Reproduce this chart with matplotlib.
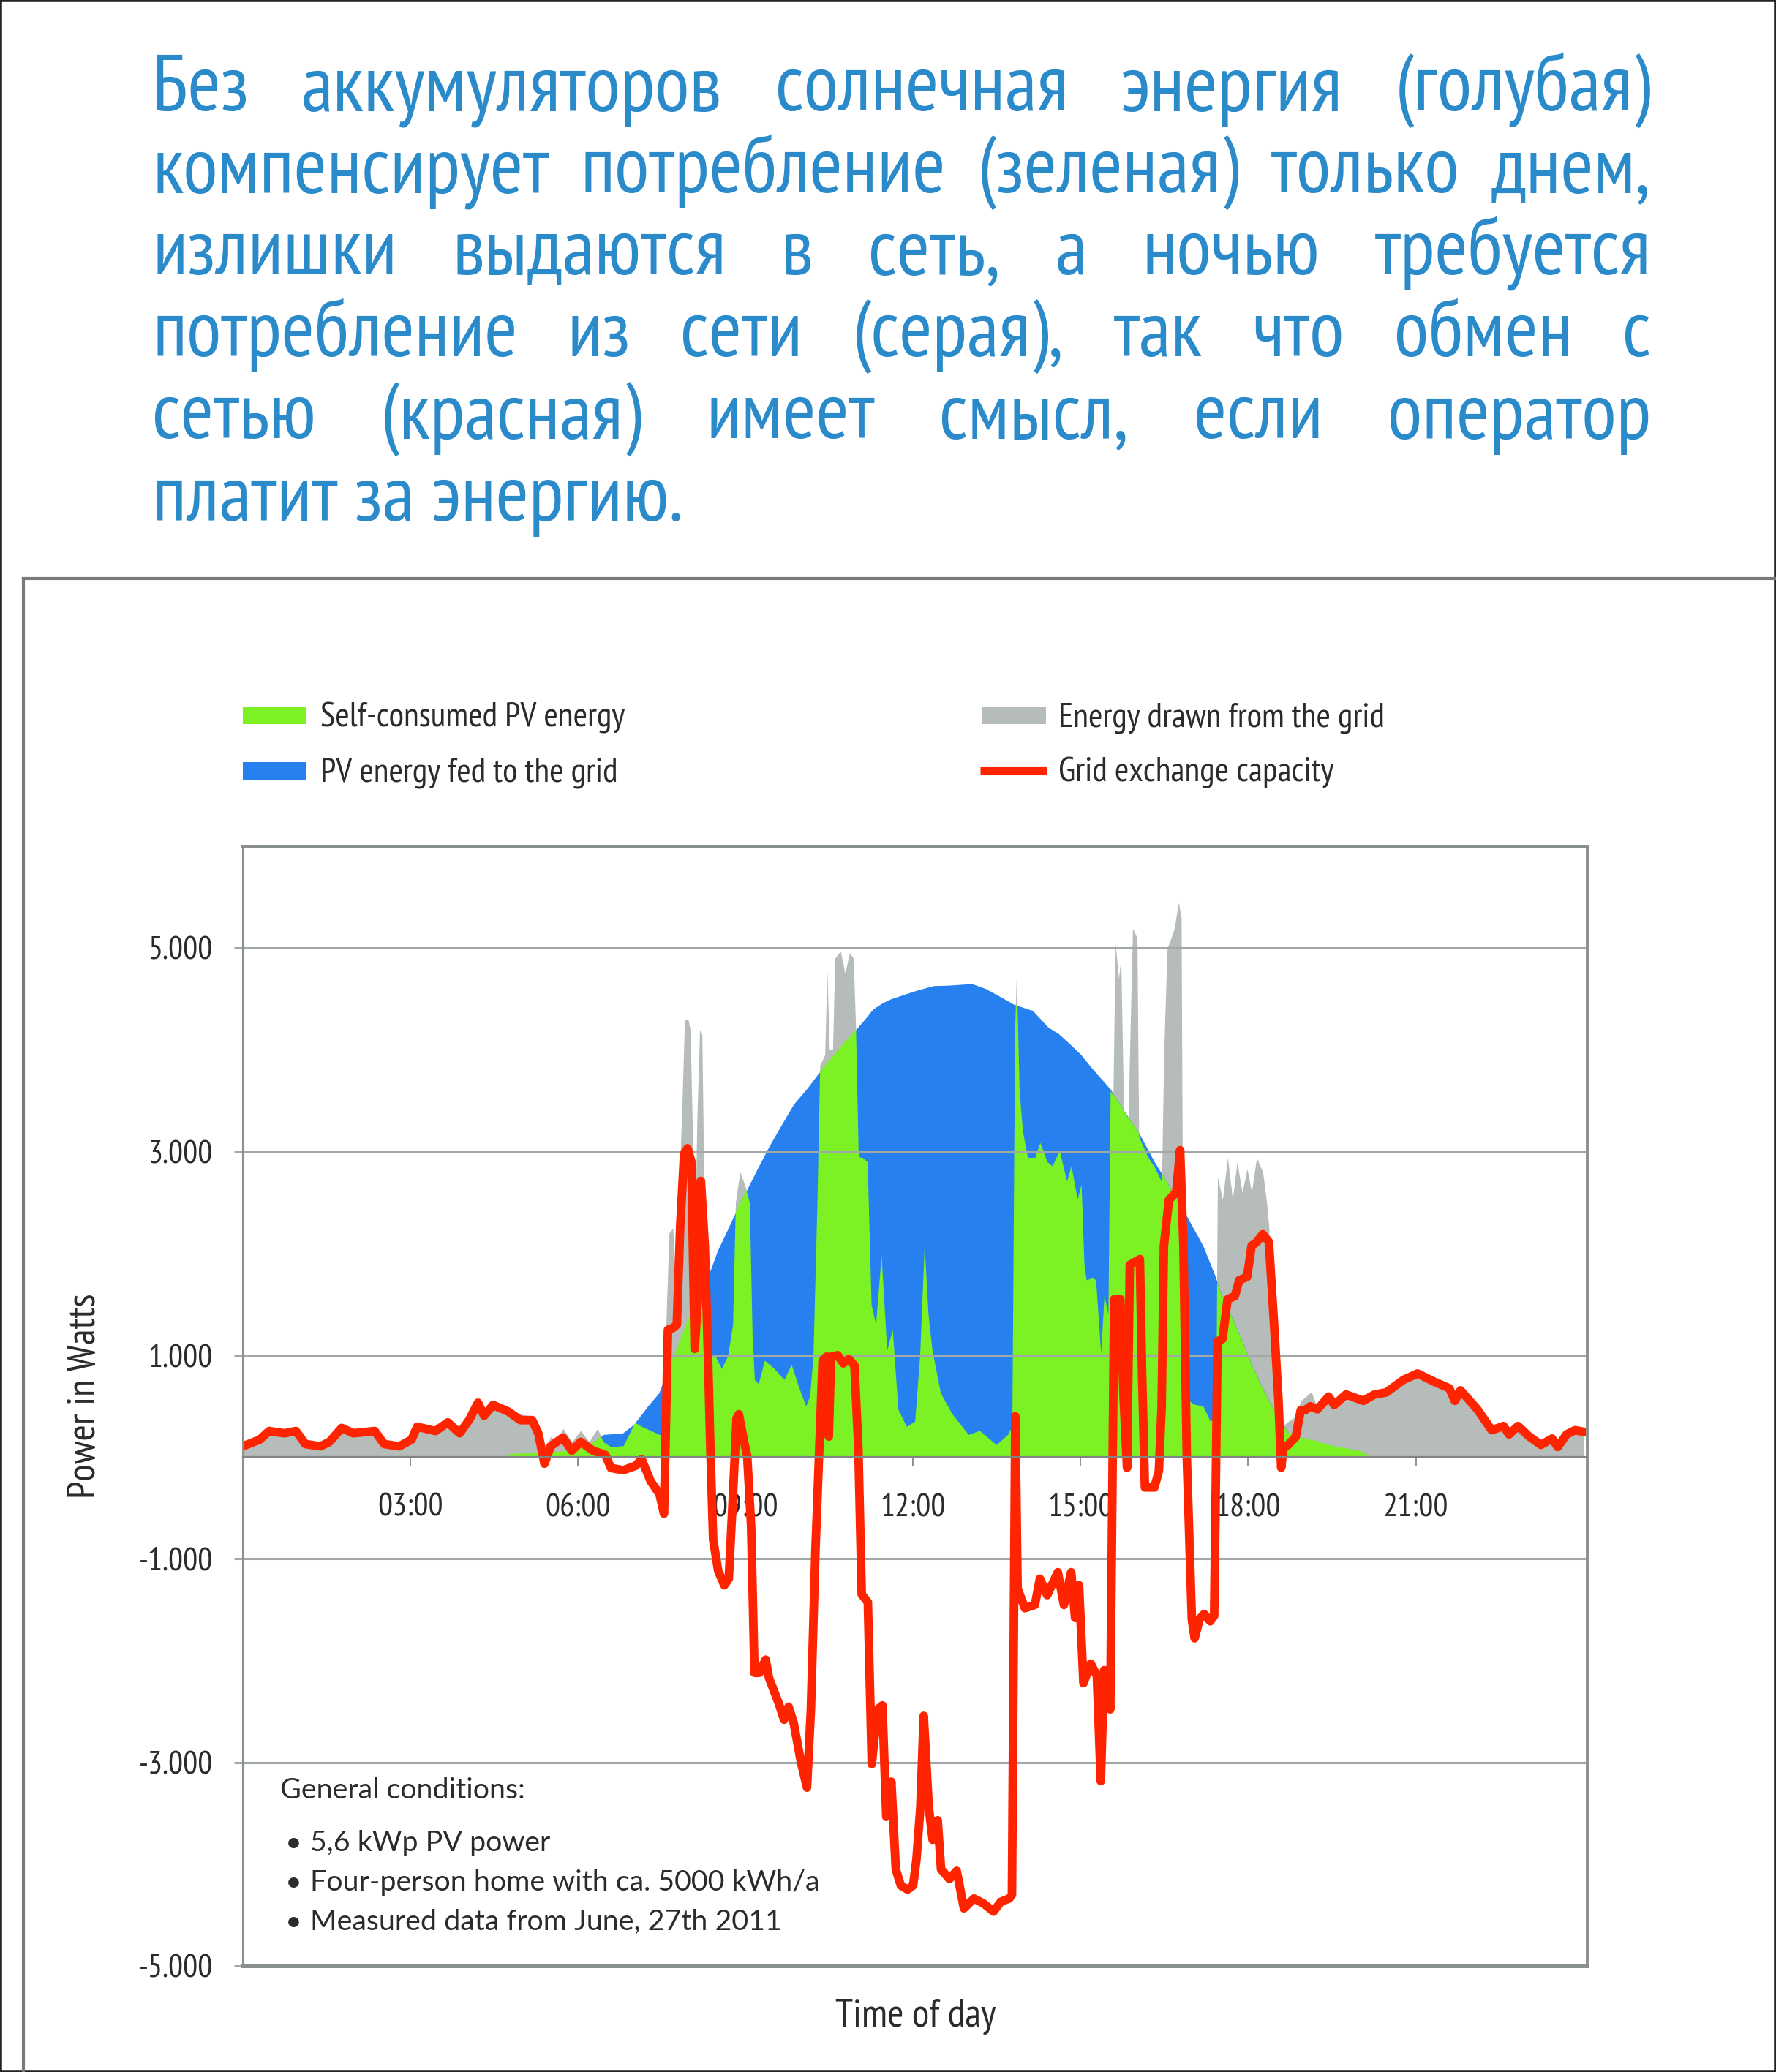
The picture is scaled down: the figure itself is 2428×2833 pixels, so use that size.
import os
import matplotlib
matplotlib.use('Agg')
import matplotlib.pyplot as plt
from matplotlib import font_manager
from matplotlib.font_manager import FontProperties
from matplotlib.ft2font import FT2Font
from matplotlib.patches import Rectangle
from matplotlib.lines import Line2D
from matplotlib.path import Path

# =======  DATA  ======= #
title_lines = [
    'Без аккумуляторов солнечная энергия (голубая)',
    'компенсирует потребление (зеленая) только днем,',
    'излишки выдаются в сеть, а ночью требуется',
    'потребление из сети (серая), так что обмен с',
    'сетью (красная) имеет смысл, если оператор',
    'платит за энергию.',
]
legend_labels = ['Self-consumed PV energy', 'PV energy fed to the grid',
                 'Energy drawn from the grid', 'Grid exchange capacity']
conditions_title = 'General conditions:'
conditions = ['5,6 kWp PV power',
              'Four-person home with ca. 5000 kWh/a',
              'Measured data from June, 27th 2011']

y_ticks = [5000, 3000, 1000, -1000, -3000, -5000]
y_tick_labels = ['5.000', '3.000', '1.000', '-1.000', '-3.000', '-5.000']
x_ticks = [3, 6, 9, 12, 15, 18, 21]
x_tick_labels = ['03:00', '06:00', '09:00', '12:00', '15:00', '18:00', '21:00']

# PV generation (top of blue / green under grey)
pv_hours = [0.0, 4.7, 4.8, 5.5, 6.0, 6.3, 6.45, 6.8, 7.0, 7.25, 7.45, 7.6, 7.8,
            7.96, 8.1, 8.22, 8.38, 8.5, 8.64, 8.75, 8.86, 9.0, 9.21, 9.42,
            9.65, 9.86, 10.1, 10.3, 10.56, 10.8, 11.0, 11.15, 11.28, 11.45,
            11.6, 11.9, 12.1, 12.37, 12.6, 12.8, 13.05, 13.3, 13.6, 13.8,
            14.14, 14.42, 14.6, 14.8, 15.0, 15.23, 15.53, 15.79, 16.06, 16.32,
            16.49, 16.75, 16.89, 17.19, 17.41, 17.5, 17.84, 18.06, 18.28,
            18.5, 18.72, 18.94, 19.2, 19.5, 20.0, 20.2, 24.0]
pv_watts = [0, 0, 30, 45, 70, 150, 220, 235, 320, 500, 630, 850, 1100,
            1340, 1500, 1650, 1850, 2030, 2190, 2320, 2450, 2600, 2830, 3050,
            3270, 3465, 3620, 3765, 3935, 4090, 4215, 4310, 4400, 4460,
            4500, 4555, 4590, 4630, 4633, 4640, 4650, 4600, 4510, 4447,
            4385, 4220, 4160, 4060, 3955, 3800, 3615, 3390, 3165, 2900,
            2750, 2500, 2375, 2075, 1775, 1625, 1210, 910, 650,
            420, 235, 190, 160, 110, 60, 0, 0]

# household consumption (top of green / grey)
load_hours = [0.0, 0.3, 0.47, 0.74, 0.95, 1.12, 1.39, 1.55, 1.77, 1.98, 2.36,
              2.53, 2.8, 3.02, 3.12, 3.45, 3.67, 3.88, 4.05, 4.21, 4.32, 4.48,
              4.75, 4.97, 5.18, 5.29, 5.4, 5.51, 5.62, 5.73, 5.89, 6.05, 6.2,
              6.35, 6.45, 6.59, 6.81, 7.02, 7.14, 7.3, 7.46, 7.54, 7.57, 7.63,
              7.7, 7.75, 7.8, 7.86, 7.91, 7.97, 8.01, 8.05, 8.09, 8.13, 8.18,
              8.22, 8.26, 8.31, 8.36, 8.46, 8.57, 8.68, 8.77, 8.82, 8.9, 9.0,
              9.07, 9.12, 9.16, 9.23, 9.34, 9.51, 9.69, 9.82, 9.95, 10.08,
              10.15, 10.21, 10.28, 10.33, 10.42, 10.46, 10.5, 10.56, 10.6,
              10.7, 10.78, 10.86, 10.93, 10.97, 11.02, 11.1, 11.18, 11.25,
              11.33, 11.43, 11.53, 11.63, 11.73, 11.88, 12.03, 12.12, 12.2,
              12.27, 12.34, 12.49, 12.69, 12.99, 13.19, 13.49, 13.69, 13.77,
              13.82, 13.85, 13.9, 13.96, 14.05, 14.18, 14.27, 14.4, 14.49,
              14.62, 14.75, 14.83, 14.94, 15.01, 15.06, 15.1, 15.21, 15.27,
              15.36, 15.42, 15.49, 15.53, 15.58, 15.62, 15.68, 15.72, 15.77,
              15.85, 15.93, 16.01, 16.04, 16.2, 16.32, 16.45, 16.49, 16.55,
              16.62, 16.68, 16.75, 16.8, 16.84, 17.02, 17.19, 17.32, 17.42,
              17.45, 17.54, 17.63, 17.72, 17.8, 17.89, 17.98, 18.06, 18.15,
              18.26, 18.33, 18.37, 18.41, 18.48, 18.63, 18.72, 18.85, 18.94,
              19.13, 19.24, 19.44, 19.54, 19.75, 20.06, 20.26, 20.47, 20.78,
              21.03, 21.34, 21.6, 21.7, 21.8, 22.1, 22.36, 22.57, 22.67,
              22.83, 23.03, 23.24, 23.44, 23.54, 23.7, 23.85, 24.0]
load_watts = [110, 170, 255, 235, 255, 130, 105, 150, 285, 235, 255,
              130, 105, 170, 300, 255, 340, 235, 365, 530, 420, 520,
              460, 420, 400, 300, 40, 200, 150, 280, 150, 260, 150,
              280, 150, 100, 110, 340, 300, 260, 220, 200, 1200, 2200,
              2250, 1600, 2500, 3400, 4300, 4300, 4200, 3200, 2000, 3300, 4200,
              4150, 2500, 1300, 1000, 990, 870, 990, 1300, 2500, 2800, 2650,
              2500, 1200, 760, 720, 950, 870, 760, 910, 690, 500,
              600, 1000, 2500, 3850, 3950, 4780, 4000, 4000, 4900,
              4970, 4750, 4950, 4900, 4250, 2950, 2940, 2900, 1500,
              1300, 1980, 1050, 1250, 470, 300, 350, 1000, 2080,
              1400, 1050, 630, 430, 220, 260, 120, 220, 300,
              4200, 4750, 3600, 3200, 2940, 2940, 3090, 2900, 2860,
              3010, 2710, 2860, 2530, 2680, 1900, 1740, 1760, 1740,
              1020, 1590, 1400, 3600, 3550, 5040, 4700, 4900, 3400,
              3330, 5190, 5100, 3150, 2950, 2850, 2700, 4000, 5000,
              5100, 5200, 5450, 5300, 600, 520, 500, 350, 400,
              2750, 2530, 2940, 2530, 2900, 2600, 2830, 2600, 2940,
              2800, 2500, 2260, 1320, 570, 310, 350, 400, 550,
              640, 480, 600, 520, 620, 560, 600, 620, 760,
              820, 740, 680, 560, 660, 470, 270, 300, 220,
              300, 200, 120, 180, 100, 220, 260, 250]

# grid exchange (red line)
grid_hours = [0.0, 0.3, 0.47, 0.74, 0.95, 1.12, 1.39, 1.55, 1.77, 1.98, 2.36,
              2.53, 2.8, 3.02, 3.12, 3.45, 3.67, 3.88, 4.05, 4.21, 4.32, 4.48,
              4.75, 4.97, 5.18, 5.29, 5.4, 5.51, 5.73, 5.89, 6.05, 6.27, 6.49,
              6.59, 6.81, 7.03, 7.14, 7.3, 7.46, 7.54, 7.61, 7.7, 7.77, 7.83,
              7.9, 7.96, 8.03, 8.09, 8.14, 8.2, 8.27, 8.33, 8.37, 8.42, 8.51,
              8.62, 8.7, 8.77, 8.84, 8.88, 8.97, 9.03, 9.1, 9.16, 9.25, 9.36,
              9.42, 9.6, 9.69, 9.77, 9.86, 9.99, 10.1, 10.17, 10.25, 10.32,
              10.38, 10.45, 10.49, 10.53, 10.65, 10.75, 10.85, 10.95, 11.02,
              11.08, 11.19, 11.26, 11.36, 11.45, 11.52, 11.61, 11.69, 11.78,
              11.9, 12.0, 12.06, 12.13, 12.19, 12.28, 12.35, 12.44, 12.5,
              12.65, 12.78, 12.91, 13.09, 13.26, 13.44, 13.57, 13.72, 13.77,
              13.83, 13.87, 14.0, 14.18, 14.27, 14.4, 14.59, 14.7, 14.83,
              14.9, 14.97, 15.05, 15.18, 15.29, 15.36, 15.42, 15.53, 15.6,
              15.71, 15.77, 15.83, 15.88, 16.06, 16.1, 16.15, 16.32, 16.4,
              16.45, 16.49, 16.58, 16.71, 16.78, 16.84, 16.9, 16.99, 17.04,
              17.13, 17.21, 17.32, 17.39, 17.45, 17.54, 17.63, 17.76, 17.84,
              17.98, 18.06, 18.15, 18.26, 18.37, 18.46, 18.54, 18.59, 18.63,
              18.72, 18.85, 18.94, 19.02, 19.11, 19.24, 19.44, 19.54, 19.75,
              20.06, 20.26, 20.47, 20.78, 21.03, 21.34, 21.6, 21.7, 21.8,
              22.1, 22.36, 22.57, 22.67, 22.83, 23.03, 23.24, 23.44, 23.54,
              23.7, 23.85, 24.05]
grid_watts = [105, 170, 255, 233, 255, 127, 105, 148, 285, 233, 255,
              127, 105, 170, 297, 255, 340, 233, 362, 533, 404, 511,
              447, 362, 362, 233, -66, 105, 191, 62, 148, 62, 20,
              -108, -130, -87, -23, -237, -365, -557, 1249, 1267, 1300, 2263,
              2976, 3033, 2901, 1061, 1500, 2713, 2075, 948, 86, -812, -1119,
              -1260, -1196, -427, 380, 420, 160, 9, -683, -2120, -2120, -1991,
              -2171, -2428, -2581, -2453, -2607, -2992, -3248, -2479, -940, 86,
              948, 986, 200, 986, 1000, 920, 960, 900, 86,
              -1350, -1427, -3017, -2480, -2440, -3535, -3190, -4050, -4210,
              -4250, -4210, -3953, -3440, -2543, -3440, -3761, -3569, -4050,
              -4146, -4066, -4434, -4338, -4386, -4466, -4370, -4338, -4300,
              400, -1292, -1485, -1453, -1196, -1357, -1132, -1453, -1132,
              -1581, -1260, -2222, -2030, -2150, -3184, -2094, -2479, 1549,
              1549, 573, -106, 1887, 1944, 800, -299, -299, -138,
              500, 2075, 2526, 2600, 3014, 2075, 0, -1590, -1781,
              -1590, -1542, -1614, -1560, 1136, 1160, 1549, 1580, 1737,
              1770, 2075, 2110, 2188, 2113, 1324, 573, -105, 84,
              122, 197, 460, 460, 498, 469, 593, 511, 614,
              552, 614, 634, 758, 820, 737, 675, 552, 655,
              469, 263, 304, 222, 304, 201, 119, 181, 98,
              222, 263, 243]

# =======  STYLE  ======= #
W, H, DPI = 2428, 2833, 100
GREEN = '#7cf224'
BLUE = '#2680f0'
GRAY = '#b5bcba'
RED = '#ff2400'
GRID = '#a2a7a7'
FRAME = '#8a9090'
TXT = '#2b2b2b'
TITLE_BLUE = '#2a8aca'


def has_cyrillic(path):
    try:
        return FT2Font(path).get_char_index(ord('ж')) != 0
    except Exception:
        return False


def find_narrow_font():
    # prefer a narrow / condensed sans face, else Liberation Sans
    ranked = []
    for f in font_manager.fontManager.ttflist:
        if f.style != 'normal' or f.weight != 400:
            continue
        name = f.name.lower()
        base = os.path.basename(f.fname).lower()
        if 'mono' in name or ('serif' in name and 'sans' not in name):
            continue
        if 'narrow' in name or 'narrow' in base:
            rank = 0
        elif (f.stretch == 'condensed' or 'condensed' in name or
              ('condensed' in base and 'semi' not in base and 'extra' not in base)):
            rank = 1
        else:
            continue
        if has_cyrillic(f.fname):
            ranked.append((rank, f.fname))
    ranked.sort()
    if ranked:
        return ranked[0][1]
    return font_manager.findfont(FontProperties(family='Liberation Sans'))


SANS_PATH = find_narrow_font()


def sans(size):
    fp = FontProperties(fname=SANS_PATH)
    fp.set_size(size)
    return fp


ROUND = 'Lato'
try:
    font_manager.findfont(FontProperties(family='Lato'), fallback_to_default=False)
except Exception:
    ROUND = 'Open Sans'


def fx(x):
    return x / W


def fy(y):
    return 1 - y / H


fig = plt.figure(figsize=(W / DPI, H / DPI), dpi=DPI)
renderer = fig.canvas.get_renderer()


def text_px(s, size):
    w, h, d = renderer.get_text_width_height_descent(s, sans(size), ismath=False)
    return w


def fit(s, target, max_pt):
    return min(max_pt, 50 * target / text_px(s, 50))


TICK_FS = fit('03:00', 101, 32)
LEG_FS = fit(legend_labels[0], 477, 34)
YLAB_FS = fit('Power in Watts', 331, 39)
XLAB_FS = fit('Time of day', 267, 39)

ax = fig.add_axes([fx(332), fy(2688), (2170 - 332) / W, (2688 - 1157) / H])

# fills: grey = load, blue = pv, green = overlap of both
ax.fill_between(load_hours, 0, load_watts, color=GRAY, lw=0, zorder=1.0)
blue = ax.fill_between(pv_hours, 0, pv_watts, color=BLUE, lw=0, zorder=1.1)
green = ax.fill_between(load_hours, 0, load_watts, color=GREEN, lw=0, zorder=1.2)
clip = Path.make_compound_path(*blue.get_paths())
green.set_clip_path(clip, ax.transData)

ax.plot(grid_hours, grid_watts, color=RED, lw=8.5, solid_joinstyle='round',
        solid_capstyle='round', zorder=2)

ax.set_xlim(0, 24.07)
ax.set_ylim(-5000, 6000)
ax.set_yticks(y_ticks, y_tick_labels)
ax.set_xticks(x_ticks, x_tick_labels)
ax.spines['bottom'].set_position(('data', 0))
ax.spines['bottom'].set_color('#7f8585')
ax.spines['bottom'].set_linewidth(1.6)
ax.spines['top'].set_color(FRAME)
ax.spines['top'].set_linewidth(3.6)
ax.spines['left'].set_color(FRAME)
ax.spines['left'].set_linewidth(2.2)
ax.spines['right'].set_color(FRAME)
ax.spines['right'].set_linewidth(2.8)
ax.axhline(-5000, color=FRAME, lw=3.6, clip_on=False, zorder=3)
ax.grid(axis='y', color=GRID, lw=2.2)
ax.tick_params(axis='x', direction='out', length=8.6, width=1.4, color=FRAME,
               pad=27, labelcolor=TXT)
ax.tick_params(axis='y', direction='out', length=8.6, width=2.2, color=GRID,
               pad=21, labelcolor=TXT)
for lab in ax.get_xticklabels() + ax.get_yticklabels():
    lab.set_fontproperties(sans(TICK_FS))

ax.set_ylabel('Power in Watts', fontproperties=sans(YLAB_FS), color=TXT, va='center')
ax.yaxis.set_label_coords(-0.117, 0.509)
ax.set_xlabel('Time of day', fontproperties=sans(XLAB_FS), color=TXT, va='center')
ax.xaxis.set_label_coords(0.5005, -0.0457)

# legend drawn by hand (2 x 2 grid above the plot)
fig.add_artist(Rectangle((fx(332), fy(990)), 87 / W, 24 / H, transform=fig.transFigure,
                         color=GREEN, lw=0))
fig.add_artist(Rectangle((fx(332), fy(1066)), 87 / W, 24 / H, transform=fig.transFigure,
                         color=BLUE, lw=0))
fig.add_artist(Rectangle((fx(1343), fy(990)), 87 / W, 24 / H, transform=fig.transFigure,
                         color=GRAY, lw=0))
fig.add_artist(Line2D([fx(1340), fx(1431)], [fy(1054), fy(1054)], transform=fig.transFigure,
                      color=RED, lw=8, solid_capstyle='butt'))
leg_pos = [(438, 993), (438, 1068), (1447, 993), (1447, 1068)]
for (lx, ly), lab in zip(leg_pos, legend_labels):
    fig.text(fx(lx), fy(ly), lab, fontproperties=sans(LEG_FS), color=TXT, va='baseline')

# general conditions note
fig.text(fx(383), fy(2459), conditions_title, fontsize=28.4, color=TXT, va='baseline',
         family=[ROUND, 'DejaVu Sans'])
for i, line in enumerate(conditions):
    yb = fy(2531 + i * 54)
    fig.text(fx(390), yb, '\u2022', fontsize=28.4, color=TXT, va='baseline',
             family=[ROUND, 'DejaVu Sans'])
    fig.text(fx(424), yb, line, fontsize=28.4, color=TXT, va='baseline',
             family=[ROUND, 'DejaVu Sans'])

# frames of the page
fig.add_artist(Rectangle((0, 0), 1, 1, transform=fig.transFigure, fill=False,
                         ec='#222222', lw=4))
fig.add_artist(Line2D([fx(32), fx(32)], [fy(791), 0], transform=fig.transFigure,
                      color='#7a7a7a', lw=3))
fig.add_artist(Line2D([fx(32), 1], [fy(791), fy(791)], transform=fig.transFigure,
                      color='#7a7a7a', lw=3))

# justified title
x_left, x_right = 208, 2257
title_baselines = [151.5, 263, 375, 487, 599.5, 712]
base_fs = 72.9
scale = min(80 / base_fs, min(0.96 * (x_right - x_left) / text_px(s, base_fs)
                              for s in title_lines[:-1]))
title_fs = base_fs * scale
for i, line in enumerate(title_lines):
    yb = fy(title_baselines[i])
    if i == len(title_lines) - 1:
        fig.text(fx(x_left), yb, line, fontproperties=sans(title_fs), color=TITLE_BLUE,
                 va='baseline')
        continue
    words = line.split(' ')
    items = [fig.text(0, yb, w, fontproperties=sans(title_fs), color=TITLE_BLUE,
                      va='baseline') for w in words]
    widths = [t.get_window_extent(renderer).width for t in items]
    gap = (x_right - x_left - sum(widths)) / (len(words) - 1)
    x = x_left
    for t, w in zip(items, widths):
        t.set_x(fx(x))
        x += w + gap

fig.savefig('out.png', dpi=DPI)
